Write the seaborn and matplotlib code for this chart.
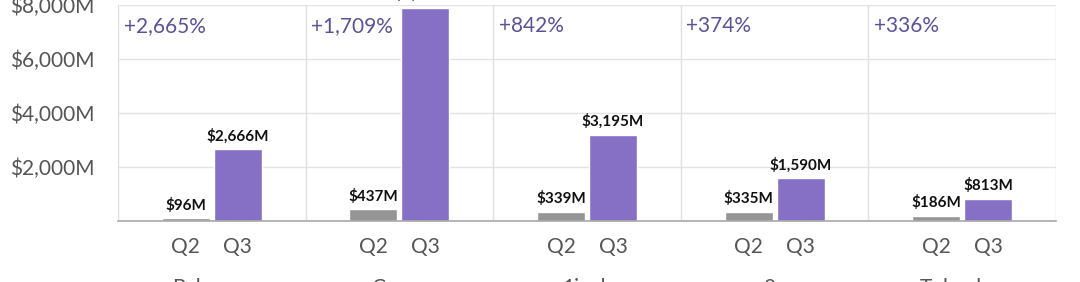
import matplotlib
matplotlib.use("Agg")
import matplotlib.pyplot as plt
import matplotlib.transforms as mtransforms
import seaborn as sns
import pandas as pd

platforms = ["Balancer", "Curve", "1inch", "0x", "Tokenlon"]
quarters = ["Q2", "Q3"]
q2_values = [96, 437, 339, 335, 186]
q3_values = [2666, 7906, 3195, 1590, 813]
growth_labels = ["+2,665%", "+1,709%", "+842%", "+374%", "+336%"]
yticks = [2000, 4000, 6000, 8000]
ytick_labels = ["$2,000M", "$4,000M", "$6,000M", "$8,000M"]

rows = []
for p, a, b in zip(platforms, q2_values, q3_values):
    rows.append({"platform": p, "quarter": "Q2", "value": a})
    rows.append({"platform": p, "quarter": "Q3", "value": b})
df = pd.DataFrame(rows)

sns.set_theme(style="white")
plt.rcParams["font.family"] = ["Lato", "DejaVu Sans"]

fig = plt.figure(figsize=(10.8, 2.82), dpi=100)
ax = fig.add_axes([118 / 1080, (282 - 221) / 282, (1056 - 118) / 1080, (221 - 5) / 282])

sns.barplot(data=df, x="platform", y="value", hue="quarter", order=platforms,
            hue_order=quarters, palette={"Q2": "#959595", "Q3": "#8670c6"},
            width=0.555, gap=0.08, legend=False, ax=ax, saturation=1)

ax.set_xlim(-0.5, len(platforms) - 0.5)
ax.set_ylim(0, 8000)
ax.set_yticks(yticks)
ax.set_yticklabels(ytick_labels, fontsize=15, color="#555555")
ax.tick_params(axis="y", length=0, pad=17)
ax.set_xticks([])
ax.set_xlabel("")
ax.set_ylabel("")

for y in yticks:
    ax.axhline(y, color="#e3e3e3", lw=1, zorder=0)
for i in range(len(platforms) + 1):
    ax.axvline(i - 0.5, color="#e0e0e0", lw=1, zorder=0)
for s in ["top", "right", "left"]:
    ax.spines[s].set_visible(False)
ax.spines["bottom"].set_color("#a8a8a8")
ax.spines["bottom"].set_linewidth(1.2)

bars = [p for p in ax.patches if p.get_height() > 0]
bars = sorted(bars, key=lambda p: p.get_x())
for p in bars:
    cx = p.get_x() + p.get_width() / 2
    h = p.get_height()
    ax.annotate(f"${h:,.0f}M", (cx, h), xytext=(0, 4), textcoords="offset points",
                ha="center", va="bottom", fontsize=11, fontweight="bold",
                color="#111111", clip_on=False, annotation_clip=False)

trans_q = mtransforms.blended_transform_factory(ax.transData, ax.transAxes)
for k, p in enumerate(bars):
    cx = p.get_x() + p.get_width() / 2
    ax.text(cx, -0.075, quarters[k % 2], transform=trans_q, ha="center", va="top",
            fontsize=15, color="#555555")

for i, (name, g) in enumerate(zip(platforms, growth_labels)):
    ax.annotate(g, (i - 0.5, 1.0), xycoords=trans_q, xytext=(4, -8),
                textcoords="offset points", ha="left", va="top",
                fontsize=15, color="#5b5296")
    ax.text(i, -0.265, name, transform=trans_q, ha="center", va="top",
            fontsize=15, color="#555555", clip_on=False)

fig.savefig("out.png", dpi=100, facecolor="white")
